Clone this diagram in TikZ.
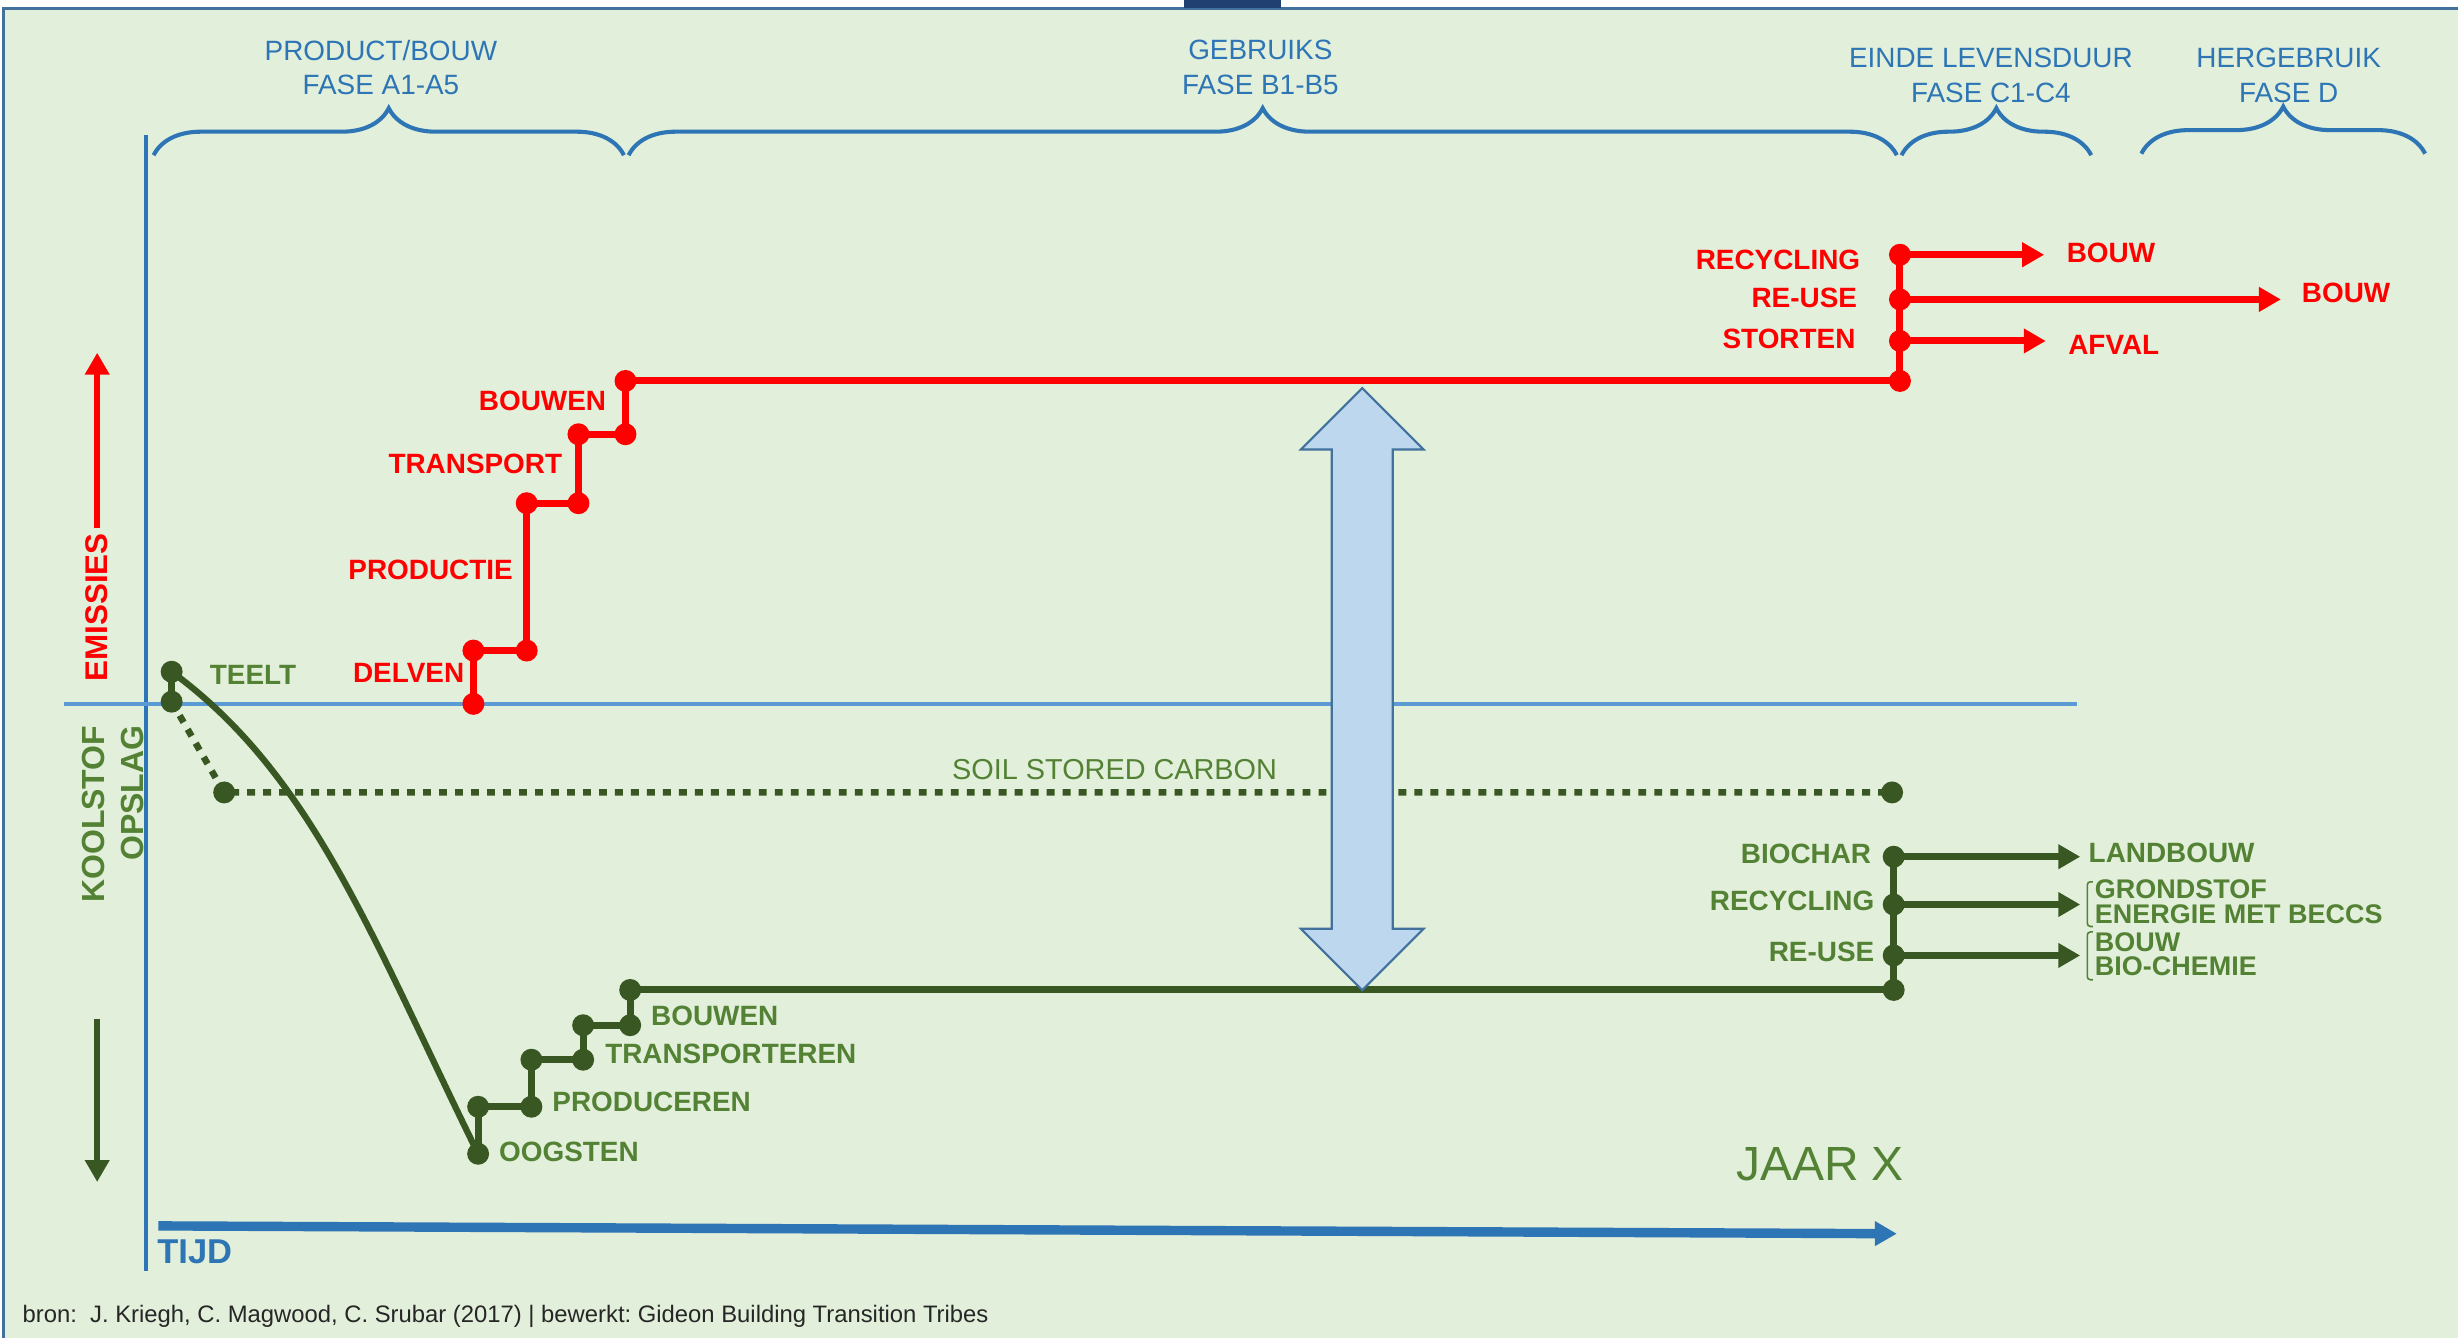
\documentclass[tikz,border=0pt]{standalone}
\usepackage{fontspec}
\setmainfont{Liberation Sans}
\usepackage{tikz}
\usetikzlibrary{arrows.meta,positioning,shapes.arrows,decorations.pathreplacing}
\definecolor{bggreen}{RGB}{226,239,218}
\definecolor{frameblue}{RGB}{65,113,156}
\definecolor{faseblue}{RGB}{46,117,182}
\definecolor{lineblue}{RGB}{91,155,213}
\definecolor{emred}{RGB}{255,0,0}
\definecolor{dgreen}{RGB}{56,87,35}
\definecolor{tgreen}{RGB}{84,130,53}
\definecolor{gapfill}{RGB}{189,215,238}
\definecolor{topblue}{RGB}{31,64,112}
\tikzset{
    %Define standard arrow tip
    >={Triangle[length=7pt,width=7.5pt]},
    %Define style for dots
    rdot/.style={
           circle,
           fill=emred,
           inner sep=0pt,
           minimum size=7pt},
    gdot/.style={
           circle,
           fill=dgreen,
           inner sep=0pt,
           minimum size=7pt},
    %Define style for labels
    rlab/.style={
           text=emred,
           inner sep=0pt,
           font=\fontsize{8.9}{10}\selectfont\bfseries},
    glab/.style={
           text=tgreen,
           inner sep=0pt,
           font=\fontsize{8.9}{10}\selectfont\bfseries},
    glabtwo/.style={
           glab,
           align=left,
           font=\fontsize{8.6}{7.7}\selectfont\bfseries},
    fase/.style={
           text=faseblue,
           align=center,
           font=\fontsize{8.9}{11}\selectfont},
    % Define line styles
    rline/.style={
           draw=emred,
           line width=2.25pt},
    gline/.style={
           draw=dgreen,
           line width=2.25pt},
    soil/.style={
           draw=dgreen,
           line width=2.1pt,
           dash pattern=on 2.5pt off 2.6pt},
    fasebrace/.style={
           draw=faseblue,
           line width=1.3pt,
           decorate,
           decoration={brace,amplitude=15pt}},
    bracket/.style={
           draw=tgreen,
           line width=0.5pt,
           rounded corners=1pt}
}
\begin{document}
\frenchspacing
\begin{tikzpicture}[x=0.5pt,y=-0.5pt]
\useasboundingbox (0,0) rectangle (1568,853);
% background and frame
\fill[white] (0,0) rectangle (1568,853);
\fill[bggreen] (2.5,5.5) rectangle (1572,860);
\draw[frameblue, line width=1pt] (2.5,5.5) rectangle (1572,860);
\fill[topblue] (755,0) rectangle (817,5);
% phases
\node[fase] (fa) at (243,43) {PRODUCT/BOUW\\FASE A1-A5};
\node[fase] (fb) at (804,43) {GEBRUIKS\\FASE B1-B5};
\node[fase] (fc) at (1270,48) {EINDE LEVENSDUUR\\FASE C1-C4};
\node[fase] (fd) at (1460,48) {HERGEBRUIK\\FASE D};
\draw[fasebrace] (98,99) -- (398,99);
\draw[fasebrace] (401,99) -- (1210,99);
\draw[fasebrace] (1213,99) -- (1334,99);
\draw[fasebrace] (1366,98) -- (1547,98);
% axes
\coordinate (ytop) at (93,86);
\coordinate (ybot) at (93,811);
\coordinate (nulL) at (41,449);
\coordinate (nulR) at (1325,449);
\coordinate (tijd0) at (101,782);
\coordinate (tijd1) at (1210,787);
\draw[faseblue, line width=1.1pt] (ytop) -- (ybot);
\draw[lineblue, line width=1.1pt] (nulL) -- (nulR);
\draw[faseblue, line width=3pt, ->] (tijd0) -- (tijd1);
\node[text=faseblue, font=\fontsize{11}{13}\selectfont\bfseries, inner sep=0pt, anchor=west] (tijd) at (100,798.5) {TIJD};
\node[text=tgreen, font=\fontsize{15.3}{18}\selectfont, inner sep=0pt, anchor=east] (jaar) at (1215,742.6) {JAAR X};
\node[text=black!85, font=\fontsize{7.6}{9}\selectfont, inner sep=0pt, anchor=west] (bron) at (14,840) {bron:\ \ J. Kriegh, C. Magwood, C. Srubar (2017) | bewerkt: Gideon Building Transition Tribes};
% emissies and opslag
\node[rotate=90, text=emred, font=\fontsize{10}{12}\selectfont\bfseries, inner sep=1.5pt] (emis) at (62,387.5) {EMISSIES};
\coordinate (emtop) at (62,225);
\draw[rline, line width=2.1pt, ->] (emis.east) -- (emtop);
\node[rotate=90, align=right, text=tgreen, font=\fontsize{10.2}{12.3}\selectfont\bfseries, inner sep=0pt, anchor=east] (kool) at (72.25,462.5) {KOOLSTOF\\OPSLAG};
\coordinate (opsl0) at (62,650);
\coordinate (opsl1) at (62,754);
\draw[gline, line width=2.1pt, ->] (opsl0) -- (opsl1);
% soil stored carbon
\node[gdot] (t1) at (109.5,428.5) {};
\node[gdot] (t2) at (109.5,447.6) {};
\node[gdot] (s1) at (143,505.5) {};
\node[gdot] (s2) at (1207,505.5) {};
\draw[gline] (t1.center) -- (t2.center);
\draw[soil] (t2.center) -- (s1.center) -- (s2.center);
\node[glab, anchor=west] (teelt) at (133.5,430.5) {TEELT};
\node[text=tgreen, font=\fontsize{9.2}{11}\selectfont, inner sep=0pt] (soillab) at (711,490.6) {SOIL STORED CARBON};
% green steps
\node[gdot] (g1) at (305,736) {};
\node[gdot] (g2) at (305,706) {};
\node[gdot] (g3) at (339,706) {};
\node[gdot] (g4) at (339,676) {};
\node[gdot] (g5) at (372,676) {};
\node[gdot] (g6) at (372,654) {};
\node[gdot] (g7) at (402,654) {};
\node[gdot] (g8) at (402,631.5) {};
\node[gdot] (g9) at (1208,631.5) {};
\node[gdot] (gre) at (1208,609.5) {};
\node[gdot] (grc) at (1208,577) {};
\node[gdot] (gbc) at (1208,546.5) {};
\draw[gline, line width=2pt] (t1.center) .. controls (200,495) and (237,598) .. (g1.center);
\draw[gline] (g1.center) -- (g2.center) -- (g3.center) -- (g4.center) -- (g5.center) -- (g6.center) -- (g7.center) -- (g8.center) -- (g9.center) -- (gbc.center);
\coordinate (gt1) at (1327,546.5);
\coordinate (gt2) at (1327,577);
\coordinate (gt3) at (1327,609.5);
\draw[gline, ->] (gbc.center) -- (gt1);
\draw[gline, ->] (grc.center) -- (gt2);
\draw[gline, ->] (gre.center) -- (gt3);
\node[glab, anchor=west] (oogst) at (318,734.7) {OOGSTEN};
\node[glab, anchor=west] (prod) at (352,702.8) {PRODUCEREN};
\node[glab, anchor=west] (trans) at (385.7,672) {TRANSPORTEREN};
\node[glab, anchor=west] (gbouw) at (415,648) {BOUWEN};
\node[glab, anchor=east] (lbc) at (1194,544.6) {BIOCHAR};
\node[glab, anchor=east] (lgrc) at (1196,574.7) {RECYCLING};
\node[glab, anchor=east] (lgre) at (1196,607) {RE-USE};
\node[glab, anchor=west] (land) at (1332,544.3) {LANDBOUW};
\node[glabtwo, anchor=west] (grond) at (1336,575.2) {GRONDSTOF\\ENERGIE MET BECCS};
\node[glabtwo, anchor=west] (bioch) at (1336,608.5) {BOUW\\BIO-CHEMIE};
\draw[bracket] (1335,562.5) -- (1331.5,562.5) -- (1331.5,591) -- (1335,591);
\draw[bracket] (1335,594.5) -- (1331.5,594.5) -- (1331.5,625) -- (1335,625);
% gap arrow
\node[double arrow, rotate=90, draw=frameblue, fill=gapfill, line width=0.7pt, inner xsep=0pt, inner ysep=9.4pt,
      minimum height=192pt, minimum width=38.5pt, double arrow head extend=9.8pt] (gap) at (869,439.6) {};
% red steps
\node[rdot] (r1) at (302,449) {};
\node[rdot] (r2) at (302,415) {};
\node[rdot] (r3) at (336,415) {};
\node[rdot] (r4) at (336,321) {};
\node[rdot] (r5) at (369,321) {};
\node[rdot] (r6) at (369,277) {};
\node[rdot] (r7) at (399,277) {};
\node[rdot] (r8) at (399,243) {};
\node[rdot] (r9) at (1212,243) {};
\node[rdot] (rst) at (1212,217.5) {};
\node[rdot] (rre) at (1212,191) {};
\node[rdot] (rrc) at (1212,162.5) {};
\draw[rline] (r1.center) -- (r2.center) -- (r3.center) -- (r4.center) -- (r5.center) -- (r6.center) -- (r7.center) -- (r8.center) -- (r9.center) -- (rrc.center);
\coordinate (rt1) at (1304,162.5);
\coordinate (rt2) at (1455,191);
\coordinate (rt3) at (1305,217.5);
\draw[rline, ->] (rrc.center) -- (rt1);
\draw[rline, ->] (rre.center) -- (rt2);
\draw[rline, ->] (rst.center) -- (rt3);
\node[rlab, anchor=east] (delv) at (296.5,429.5) {DELVEN};
\node[rlab, anchor=east] (rprod) at (327.5,363.6) {PRODUCTIE};
\node[rlab, anchor=east] (rtrans) at (359,296) {TRANSPORT};
\node[rlab, anchor=east] (rbouw) at (387,256) {BOUWEN};
\node[rlab, anchor=east] (lrc) at (1187,166) {RECYCLING};
\node[rlab, anchor=east] (lre) at (1185,190) {RE-USE};
\node[rlab, anchor=east] (lst) at (1184,216) {STORTEN};
\node[rlab, right=7pt of rt1, yshift=0.7pt] (bouw1) {BOUW};
\node[rlab, anchor=west] (bouw2) at (1468,187) {BOUW};
\node[rlab, right=7pt of rt3, yshift=-1.2pt] (afval) {AFVAL};
\end{tikzpicture}
\end{document}
